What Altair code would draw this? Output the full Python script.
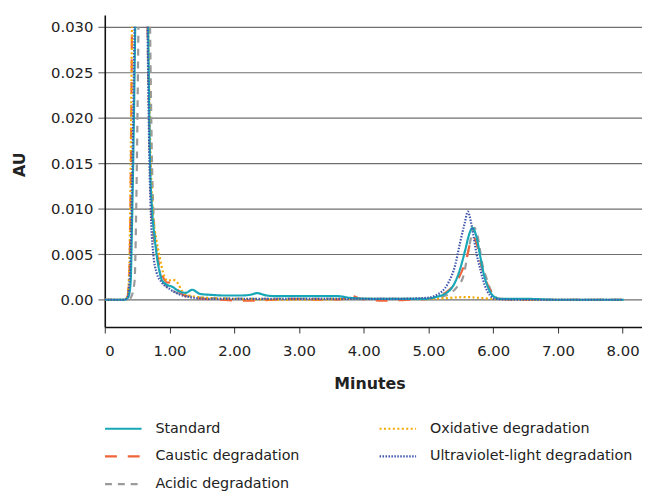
import altair as alt
import pandas as pd

FONT = "DejaVu Sans"

series_order = ["Standard", "Caustic degradation", "Acidic degradation",
                "Oxidative degradation", "Ultraviolet-light degradation"]
colors = ["#17a7b6", "#f0643a", "#9b9b9b", "#f5a800", "#3f55ad"]
dashes = [[1, 0], [12, 11], [7, 6], [2, 2.5], [1.5, 1.5]]

std_t = [0, 0.30, 0.34, 0.37, 0.40, 0.42, 0.45, 0.47, 0.57, 0.67, 0.70, 0.73, 0.77, 0.80, 0.84, 0.88,
         0.95, 1.05, 1.13, 1.25, 1.35, 1.47, 1.64, 1.85, 2.10, 2.25, 2.35, 2.50, 2.65, 3.00, 3.60, 3.80,
         4.20, 4.60, 4.95, 5.11, 5.29, 5.41, 5.49, 5.57, 5.63, 5.68, 5.74, 5.80, 5.85, 5.92, 6.02, 6.12,
         6.50, 7.00, 7.50, 8.02]
std_v = [0, 0, 0.0001, 0.0004, 0.002, 0.008, 0.020, 0.030, None, 0.030, 0.015, 0.010, 0.0068, 0.005,
         0.0033, 0.0022, 0.0017, 0.0014, 0.0010, 0.00076, 0.0011, 0.00065, 0.00054, 0.00047, 0.00047,
         0.00055, 0.00073, 0.00047, 0.0004, 0.0004, 0.0004, 0.0002, 0.0001, 0.0001, 0.0001, 0.0003,
         0.0008, 0.0019, 0.0034, 0.0055, 0.0072, 0.0079, 0.0070, 0.0048, 0.0030, 0.0014, 0.0003, 0.0001,
         0.0001, 0, 0, 0]

cau_t = [0, 0.30, 0.35, 0.38, 0.40, 0.42, 0.54, 0.66, 0.70, 0.72, 0.76, 0.81, 0.85, 0.90, 0.96, 1.02,
         1.08, 1.15, 1.25, 1.40, 1.80, 2.20, 2.60, 3.00, 3.40, 3.70, 3.78, 3.85, 3.96, 4.30, 4.70, 5.00,
         5.16, 5.34, 5.46, 5.57, 5.69, 5.77, 5.82, 5.90, 5.99, 6.10, 6.50, 7.00, 7.50, 8.00]
cau_v = [0, 0, 0.0003, 0.003, 0.012, 0.030, None, 0.030, 0.015, 0.010, 0.0068, 0.005, 0.0034, 0.0025,
         0.0019, 0.0019, 0.0017, 0.0009, 0.0004, 0.0002, 0.0, -0.0001, 0.0, 0.0001, 0.0, 0.0001, 0.00065,
         0.0004, 0.0001, -0.0001, 0.0, 0.0001, 0.0004, 0.0012, 0.0023, 0.0041, 0.0069, 0.0055, 0.0037,
         0.0019, 0.0006, 0.0001, 0.0, 0.0, 0.0, 0.0]

oxi_t = [0, 0.30, 0.35, 0.38, 0.40, 0.42, 0.55, 0.67, 0.71, 0.74, 0.80, 0.84, 0.90, 0.97, 1.05, 1.13,
         1.20, 1.35, 1.60, 2.00, 3.00, 4.00, 5.00, 5.30, 5.57, 5.80, 6.00, 7.00, 8.00]
oxi_v = [0, 0, 0.0003, 0.004, 0.015, 0.030, None, 0.030, 0.015, 0.010, 0.0065, 0.005, 0.003, 0.0021,
         0.0022, 0.0018, 0.0009, 0.0004, 0.0002, 0.0001, 0.0, 0.0001, 0.0001, 0.0002, 0.0003, 0.0002,
         0.0001, 0.0, 0.0]

aci_t = [0, 0.36, 0.40, 0.46, 0.49, 0.52, 0.61, 0.70, 0.73, 0.75, 0.81, 0.87, 0.95, 1.10, 1.30, 1.60,
         2.50, 3.50, 4.50, 5.00, 5.31, 5.44, 5.54, 5.62, 5.71, 5.78, 5.82, 5.90, 5.99, 6.10, 6.50, 7.00,
         8.00]
aci_v = [0, 0, 0.0002, 0.002, 0.012, 0.030, None, 0.030, 0.015, 0.010, 0.005, 0.0025, 0.0015, 0.0008,
         0.0004, 0.0002, 0.0001, 0.0001, 0.0001, 0.0001, 0.0006, 0.0014, 0.0026, 0.0055, 0.0079, 0.0063,
         0.0044, 0.0023, 0.0007, 0.0001, 0.0, 0.0, 0.0]

uv_t = [0, 0.30, 0.35, 0.39, 0.42, 0.46, 0.56, 0.66, 0.69, 0.72, 0.75, 0.80, 0.87, 1.00, 1.15, 1.30,
        1.60, 2.50, 3.50, 4.50, 4.95, 5.11, 5.31, 5.41, 5.49, 5.56, 5.61, 5.64, 5.69, 5.74, 5.80, 5.87,
        5.95, 6.02, 6.50, 7.00, 8.00]
uv_v = [0, 0, 0.0003, 0.003, 0.012, 0.030, None, 0.030, 0.015, 0.008, 0.005, 0.003, 0.002, 0.0012,
        0.0006, 0.0003, 0.0001, 0.0001, 0.0001, 0.0001, 0.0002, 0.00047, 0.0019, 0.0037, 0.0063, 0.0084,
        0.0097, 0.0091, 0.0073, 0.0052, 0.0034, 0.0016, 0.0005, 0.0001, 0.0, 0.0, 0.0]

x_ticks = [0, 1, 2, 3, 4, 5, 6, 7, 8]
y_ticks = [0, 0.005, 0.010, 0.015, 0.020, 0.025, 0.030]

rows = []
for name, ts, vs in [("Acidic degradation", aci_t, aci_v),
                     ("Caustic degradation", cau_t, cau_v),
                     ("Oxidative degradation", oxi_t, oxi_v),
                     ("Standard", std_t, std_v),
                     ("Ultraviolet-light degradation", uv_t, uv_v)]:
    for t, v in zip(ts, vs):
        rows.append({"series": name, "t": t, "v": v})
df = pd.DataFrame(rows)


def make_legend():
    return alt.Legend(title=None, orient="none", legendX=8.25, legendY=408.5,
                      columns=2, columnPadding=75, rowPadding=11,
                      symbolType="M-2,0H2", symbolSize=342, symbolStrokeWidth=2.2,
                      labelOffset=22, labelFontSize=14.5, labelColor="#222",
                      labelFont=FONT, labelLimit=400)


chart = alt.Chart(df).mark_line(interpolate="monotone", strokeWidth=2.2).encode(
    x=alt.X("t:Q", scale=alt.Scale(domain=[0, 8.3], nice=False, zero=False),
            axis=alt.Axis(values=x_ticks, title="Minutes", grid=False,
                          labelExpr="datum.value == 0 ? '0' : format(datum.value, '.2f')",
                          tickSize=6, tickColor="#333", domainColor="#111", domainWidth=1.6,
                          labelPadding=11, titleY=57, titleX=268, titleBaseline="middle")),
    y=alt.Y("v:Q", scale=alt.Scale(domain=[-0.003, 0.0313], nice=False, zero=False),
            axis=alt.Axis(values=y_ticks, title="AU", grid=True, gridColor="#6f6f6f", gridWidth=1.2,
                          labelExpr="datum.value == 0 ? '0.00' : format(datum.value, '.3f')",
                          tickSize=7, tickColor="#6f6f6f", tickWidth=1.2, domainColor="#111",
                          domainWidth=1.6, labelPadding=5, titleX=-86, titleY=151,
                          titleBaseline="middle")),
    color=alt.Color("series:N", scale=alt.Scale(domain=series_order, range=colors),
                    legend=make_legend()),
    strokeDash=alt.StrokeDash("series:N", scale=alt.Scale(domain=series_order, range=dashes),
                              legend=make_legend()),
    order=alt.Order("t:Q"),
).properties(
    width=544, height=316,
    autosize=alt.AutoSizeParams(type="none"),
    padding={"left": 98, "top": 4, "right": 0, "bottom": 170},
).configure_view(stroke=None).configure_axis(
    labelFont=FONT, labelFontSize=15, labelColor="#222",
    titleFont=FONT, titleFontSize=16, titleFontWeight="bold", titleColor="#222",
)

chart.save("out.html", embed_options={"renderer": "svg", "actions": False})
